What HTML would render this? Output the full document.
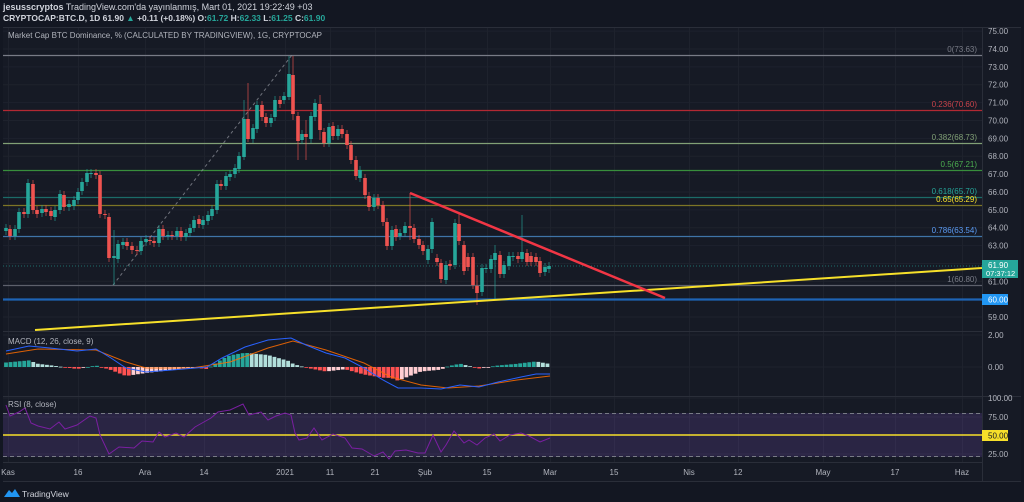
<!DOCTYPE html>
<html><head><meta charset="utf-8"><style>
html,body{margin:0;padding:0;background:#131722;width:1024px;height:502px;overflow:hidden}
svg{display:block;font-family:"Liberation Sans",sans-serif}
</style></head><body>
<svg id="s" width="1024" height="502" xmlns="http://www.w3.org/2000/svg">
<rect width="1024" height="502" fill="#131722"/>
<rect x="3" y="27" width="1018" height="454" fill="#161a25"/>
<g id="grid"></g>
<g id="fib"></g>
<line x1="113" y1="285" x2="292" y2="55" stroke="#9598a1" stroke-width="1" stroke-dasharray="3,3" opacity="0.7"/>
<line x1="3" y1="266" x2="982" y2="266" stroke="#26a69a" stroke-width="1" stroke-dasharray="1,2" opacity="0.6"/>
<g id="candles"></g>
<line x1="35" y1="330" x2="982" y2="268" stroke="#f7e02a" stroke-width="2"/>
<line x1="410" y1="193" x2="665" y2="298" stroke="#f23645" stroke-width="2.5"/>
<g id="macd"></g>
<g id="rsi"></g>
<line x1="3" y1="331.5" x2="982" y2="331.5" stroke="#2a2e39"/>
<line x1="3" y1="396.5" x2="1021" y2="396.5" stroke="#2a2e39"/>
<line x1="3" y1="462.5" x2="982" y2="462.5" stroke="#2a2e39"/>
<line x1="3" y1="481.5" x2="1021" y2="481.5" stroke="#2a2e39"/>
<line x1="982.5" y1="27" x2="982.5" y2="481" stroke="#2a2e39"/>
<line x1="3" y1="27.5" x2="1021" y2="27.5" stroke="#2a2e39"/>
<g id="labels" font-size="8" fill="#b2b5be"></g>
<text x="3" y="10" font-size="9" fill="#d1d4dc"><tspan font-weight="bold">jesusscryptos</tspan> TradingView.com'da yayınlanmış, Mart 01, 2021 19:22:49 +03</text>
<text x="3" y="21" font-size="8.5" fill="#d1d4dc" font-weight="bold">CRYPTOCAP:BTC.D, 1D  61.90 <tspan fill="#26a69a">▲</tspan> +0.11 (+0.18%) O:<tspan fill="#26a69a">61.72</tspan> H:<tspan fill="#26a69a">62.33</tspan> L:<tspan fill="#26a69a">61.25</tspan> C:<tspan fill="#26a69a">61.90</tspan></text>
<text x="8" y="38" font-size="8" fill="#b2b5be">Market Cap BTC Dominance, % (CALCULATED BY TRADINGVIEW), 1G, CRYPTOCAP</text>
<text x="8" y="344" font-size="8" fill="#b2b5be">MACD (12, 26, close, 9)</text>
<text x="8" y="407" font-size="8" fill="#b2b5be">RSI (8, close)</text>
<g transform="translate(4,488)"><path d="M0 9 L5 2 L8 5 L11 1 L16 9 Z" fill="#2196f3"/></g>
<text x="22" y="497" font-size="8.5" fill="#d1d4dc">TradingView</text>
</svg>
<script>
var NS="http://www.w3.org/2000/svg";
function el(p,t,a,txt){var e=document.createElementNS(NS,t);for(var k in a)e.setAttribute(k,a[k]);if(txt!=null)e.textContent=txt;document.getElementById(p).appendChild(e);return e;}
function Y(p){return 49+(74-p)*17.87;}
var tx=[[8,"Kas"],[78,"16"],[145,"Ara"],[204,"14"],[285,"2021"],[330,"11"],[375,"21"],[425,"Şub"],[487,"15"],[550,"Mar"],[614,"15"],[689,"Nis"],[738,"12"],[823,"May"],[895,"17"],[962,"Haz"]];
tx.forEach(function(t){el("grid","line",{x1:t[0]+.5,y1:28,x2:t[0]+.5,y2:462,stroke:"#1e222d"});el("labels","text",{x:t[0],y:475,"text-anchor":"middle"},t[1]);});
for(var p=59;p<=75;p++){var y=Y(p);el("grid","line",{x1:3,y1:y,x2:982,y2:y,stroke:"#1e222d"});if(p!==60)el("labels","text",{x:988,y:y+3},p.toFixed(2));}
[[335,"2.00"],[367,"0.00"],[398,"100.00"],[417,"75.00"],[454,"25.00"]].forEach(function(a){el("grid","line",{x1:3,y1:a[0],x2:982,y2:a[0],stroke:"#1e222d"});el("labels","text",{x:988,y:a[0]+3},a[1]);});
var fibs=[[55,"#787b86","0(73.63)","#787b86"],[110,"#b22833","0.236(70.60)","#c8424a"],[143,"#81a076","0.382(68.73)","#81a076"],[170,"#388e3c","0.5(67.21)","#4caf50"],[197,"#1b6b68","0.618(65.70)","#26a69a"],[205,"#7d7526","0.65(65.29)","#f7e02a"],[236,"#3f74a8","0.786(63.54)","#5b9cf6"],[285,"#5d606b","1(60.80)","#787b86"]];
fibs.forEach(function(f){el("fib","line",{x1:3,y1:f[0]+.5,x2:982,y2:f[0]+.5,stroke:f[1],"stroke-width":1.2});el("labels","text",{x:977,y:f[0]-3,"text-anchor":"end",fill:f[3]},f[2]);});
el("fib","line",{x1:3,y1:299.5,x2:982,y2:299.5,stroke:"#1e63b5","stroke-width":2.2});
var C=[[6,228,231,1],[10,229,236,0],[15,229,236,1],[19,212,229,1],[24,212,214,0],[28,183,214,1],[33,184,210,0],[37,210,214,0],[42,209,213,1],[46,209,212,0],[51,211,216,0],[55,210,217,1],[60,194,210,1],[64,195,207,0],[69,204,207,1],[74,200,206,1],[78,192,200,1],[82,182,191,1],[87,173,182,1],[91,173,174,1],[96,173,175,0],[100,175,214,0],[105,214,215,0],[109,217,258,0],[114,256,258,1,230,285],[118,244,259,1],[123,242,245,1],[127,242,246,0],[132,246,250,0],[137,250,251,0],[141,241,251,1],[146,239,242,1],[150,240,241,0],[154,241,243,0],[159,229,243,1],[163,229,236,0],[168,235,236,1],[172,235,236,0],[177,231,236,1],[181,231,237,0],[186,233,237,1],[190,228,233,1],[194,220,228,1],[199,219,224,0],[203,220,225,1],[208,215,221,1],[212,209,216,1],[217,184,210,1],[221,184,186,0],[226,176,186,1],[230,174,177,1],[235,168,174,1],[239,156,169,1],[244,119,157,1,100,160],[248,119,139,0,83,142],[253,128,139,1],[257,105,129,1],[262,105,117,0],[266,117,123,0],[271,118,123,1],[275,100,117,1],[280,100,104,0],[284,96,100,1],[289,74,97,1,56,100],[293,75,114,0,56,120],[298,116,141,0,112,160],[302,134,140,1],[306,134,137,0,120,160],[311,116,139,1],[315,103,117,1],[320,104,130,0,95,140],[324,132,143,0],[329,127,143,1],[333,126,136,0],[338,129,136,1],[342,129,134,0],[347,134,145,0],[351,145,160,0],[356,160,176,0],[360,170,178,1],[365,178,195,0],[369,196,207,0],[374,198,207,1],[378,198,205,0],[383,205,222,0],[387,222,246,0],[392,230,246,1],[396,229,237,0],[400,233,236,1],[405,226,233,1],[410,226,228,0,193,240],[414,228,239,0],[419,239,245,0],[423,245,251,0],[428,249,260,1],[432,222,249,1],[437,258,262,0],[441,263,279,0],[446,265,280,1],[450,264,266,0],[455,223,265,1],[459,224,241,0,213,245],[464,245,271,0],[468,257,267,0],[473,257,285,0],[477,286,293,0,275,305],[482,268,292,1],[486,268,269,1],[491,259,269,1],[495,253,260,1,245,300],[500,255,274,0],[504,265,274,1],[509,256,266,1],[513,256,257,1],[518,256,259,0],[522,252,259,1,215,262],[527,253,262,0],[531,256,262,0],[536,257,262,0],[540,261,273,0],[545,267,272,1],[549,266,269,1]];
C.forEach(function(c){var col=c[3]?"#26a69a":"#ef5350";var hi=c[4]||c[1]-4,lo=c[5]||c[2]+4;el("candles","line",{x1:c[0],y1:hi,x2:c[0],y2:lo,stroke:col,"stroke-width":0.8,opacity:0.8});el("candles","rect",{x:c[0]-1.8,y:c[1],width:3.6,height:Math.max(1,c[2]-c[1]),fill:col});});
var M=[[6,351],[29,346],[50,348],[77,351],[96,349],[111,358],[126,368],[146,372],[172,370],[207,367],[222,358],[245,347],[268,340],[291,338],[306,345],[326,353],[345,358],[364,368],[383,380],[398,388],[421,388],[441,389],[460,385],[479,387],[498,382],[521,377],[536,374],[550,374]];
var S=[[6,354],[38,349],[96,350],[126,362],[146,368],[192,368],[230,362],[268,348],[293,341],[326,350],[364,363],[391,377],[421,385],[448,388],[479,386],[517,380],[550,376]];
function interp(a,x){for(var i=1;i<a.length;i++){if(x<=a[i][0]){var t=(x-a[i-1][0])/(a[i][0]-a[i-1][0]);return a[i-1][1]+t*(a[i][1]-a[i-1][1]);}}return a[a.length-1][1];}
var prev=0;
for(var x=6;x<=550;x+=4.55){var h=(interp(S,x)-interp(M,x))*1.5;var col;if(h>=0)col=h>=prev?"#26a69a":"#b2dfdb";else col=h<prev?"#ff5252":"#ffcdd2";prev=h;var hh=Math.abs(h);el("macd","rect",{x:x-1.9,y:h>=0?367-hh:367,width:3.8,height:Math.max(0.8,hh),fill:col});}
el("macd","polyline",{points:S.map(function(p){return p.join(",")}).join(" "),fill:"none",stroke:"#ff6d00","stroke-width":1,opacity:0.85});
el("macd","polyline",{points:M.map(function(p){return p.join(",")}).join(" "),fill:"none",stroke:"#2962ff","stroke-width":1});
el("rsi","rect",{x:3,y:413,width:979,height:44,fill:"#7e57c2","fill-opacity":0.2});
el("rsi","line",{x1:3,y1:413.5,x2:982,y2:413.5,stroke:"#787b86","stroke-dasharray":"4,3"});
el("rsi","line",{x1:3,y1:456.5,x2:982,y2:456.5,stroke:"#787b86","stroke-dasharray":"4,3"});
el("rsi","line",{x1:3,y1:435,x2:982,y2:435,stroke:"#f7e02a","stroke-width":1.5});
var R=[[6,405],[10,416],[19,412],[25,408],[31,423],[38,426],[50,429],[59,422],[65,429],[77,425],[90,416],[96,418],[100,435],[109,454],[119,447],[134,448],[142,441],[153,442],[159,432],[165,437],[176,433],[184,437],[195,427],[211,418],[218,412],[230,410],[243,404],[249,415],[261,412],[268,420],[276,416],[285,413],[291,415],[295,433],[299,440],[307,438],[314,428],[322,440],[333,434],[345,438],[352,448],[362,449],[374,456],[383,452],[389,459],[395,451],[406,450],[418,453],[425,453],[433,435],[441,452],[446,445],[454,431],[464,443],[469,440],[477,445],[485,438],[494,434],[500,441],[510,435],[521,433],[529,436],[540,442],[550,438]];
el("rsi","polyline",{points:R.map(function(p){return p.join(",")}).join(" "),fill:"none",stroke:"#7b1fa2","stroke-width":1});
el("labels","rect",{x:982,y:260,width:36,height:18,fill:"#26a69a"});
el("labels","text",{x:988,y:268,fill:"#fff"},"61.90");
el("labels","text",{x:986,y:276,fill:"#fff","font-size":7.5},"07:37:12");
el("labels","rect",{x:982,y:294,width:26,height:11,fill:"#2196f3"});
el("labels","text",{x:988,y:302.5,fill:"#fff"},"60.00");
el("labels","rect",{x:982,y:430,width:26,height:11,fill:"#f7e02a"});
el("labels","text",{x:988,y:438.5,fill:"#131722"},"50.00");
</script>
</body></html>
